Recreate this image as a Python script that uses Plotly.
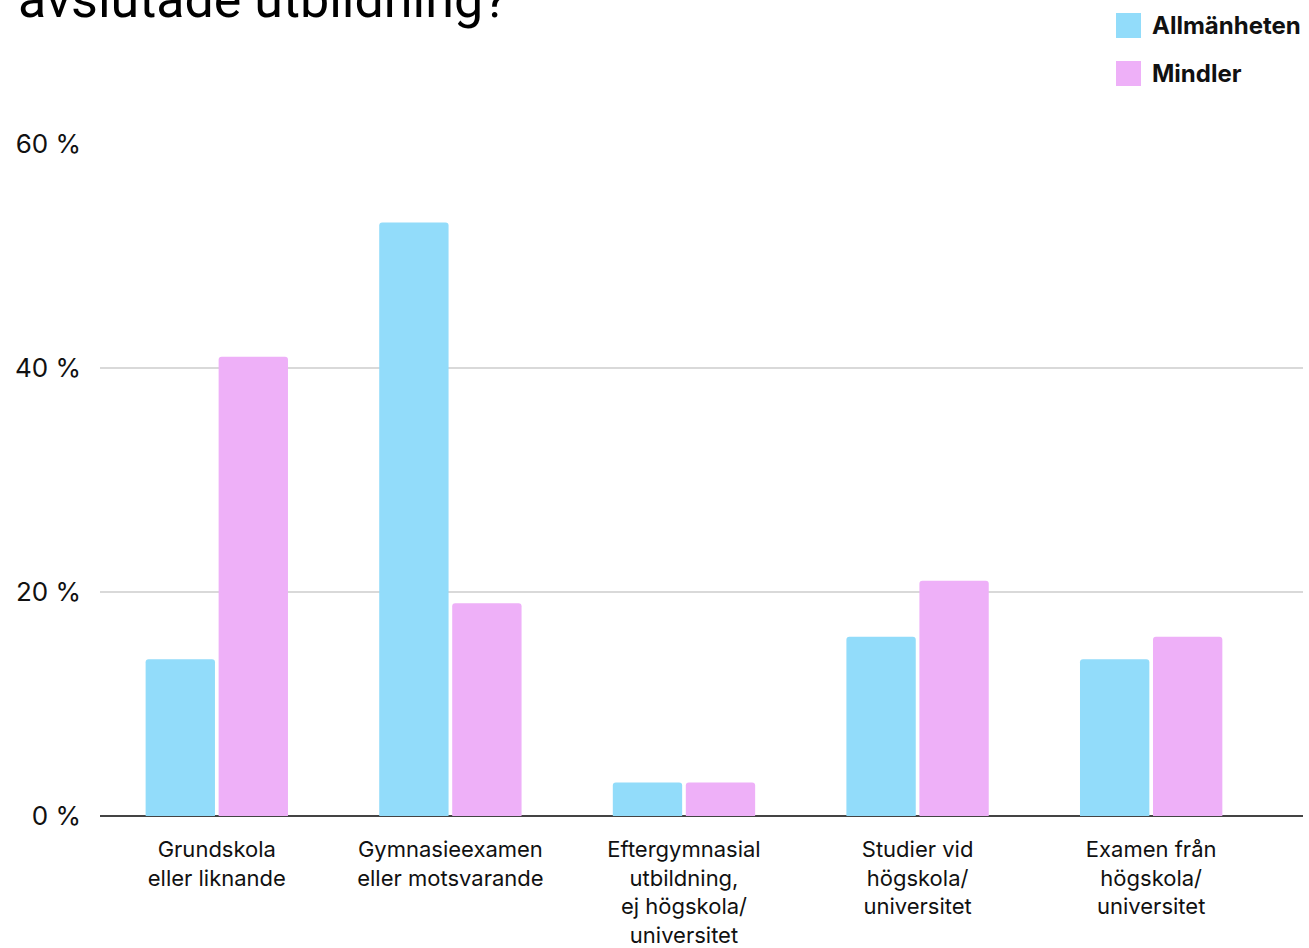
import plotly.graph_objects as go

categories = [
    "Grundskola<br>eller liknande",
    "Gymnasieexamen<br>eller motsvarande",
    "Eftergymnasial<br>utbildning,<br>ej högskola/<br>universitet",
    "Studier vid<br>högskola/<br>universitet",
    "Examen från<br>högskola/<br>universitet",
]
allmanheten = [14, 53, 3, 16, 14]
mindler = [41, 19, 3, 21, 16]
series_names = ["Allmänheten", "Mindler"]
y_ticks = [0, 20, 40, 60]
y_tick_text = ["0 %", "20 %", "40 %", "60 %"]
title_text = "avslutade utbildning?"

BLUE = "#92DCFA"
PINK = "#EEB0F8"
FONT = "Inter, Roboto, sans-serif"

fig = go.Figure()
fig.add_trace(go.Bar(x=list(range(len(categories))), y=allmanheten, name=series_names[0],
                     marker=dict(color=BLUE, line=dict(width=0)), showlegend=False))
fig.add_trace(go.Bar(x=list(range(len(categories))), y=mindler, name=series_names[1],
                     marker=dict(color=PINK, line=dict(width=0)), showlegend=False))

fig.update_layout(
    width=1309, height=948,
    margin=dict(l=100, r=6, t=144, b=132, autoexpand=False),
    paper_bgcolor="white", plot_bgcolor="white",
    barmode="group", bargap=0.375, bargroupgap=0.05,
    barcornerradius=3,
    font=dict(family=FONT, color="#111111", size=22),
)
fig.update_xaxes(
    tickmode="array", tickvals=list(range(len(categories))), ticktext=categories,
    range=[-0.5, 4.65], showgrid=False, zeroline=False, showline=False,
    ticks="", tickfont=dict(size=22, family=FONT, color="#111111"),
    ticklabelstandoff=18, automargin=False,
)
fig.update_yaxes(
    range=[0, 60], tickmode="array", tickvals=y_ticks, ticktext=y_tick_text,
    showgrid=True, gridcolor="#d9d9d9", gridwidth=2,
    zeroline=True, zerolinecolor="#444444", zerolinewidth=2,
    showline=False, ticks="", tickfont=dict(size=26, family=FONT, color="#111111"),
    ticklabelstandoff=18, automargin=False,
)

# Title (only the second line is visible within the page, as in the original)
fig.add_annotation(text=title_text, xref="paper", yref="paper",
                   x=(16 - 100) / 1203, y=(816 + 1) / 672, xanchor="left", yanchor="middle",
                   showarrow=False, font=dict(size=52, family="Roboto, sans-serif", color="#000000"))

# Custom legend
leg = [(series_names[0], BLUE, 13, 38, 26), (series_names[1], PINK, 61, 86, 74)]
for name, col, y0, y1, yc in leg:
    fig.add_shape(type="rect", xref="paper", yref="paper",
                  x0=(1116 - 100) / 1203, x1=(1141 - 100) / 1203,
                  y0=(816 - y1) / 672, y1=(816 - y0) / 672,
                  fillcolor=col, line=dict(width=0))
    fig.add_annotation(text="<b>" + name + "</b>", xref="paper", yref="paper",
                       x=(1150 - 100) / 1203, y=(816 - yc) / 672,
                       xanchor="left", yanchor="middle", showarrow=False,
                       font=dict(size=24, family=FONT, color="#111111"))

fig.write_html("out.html")
